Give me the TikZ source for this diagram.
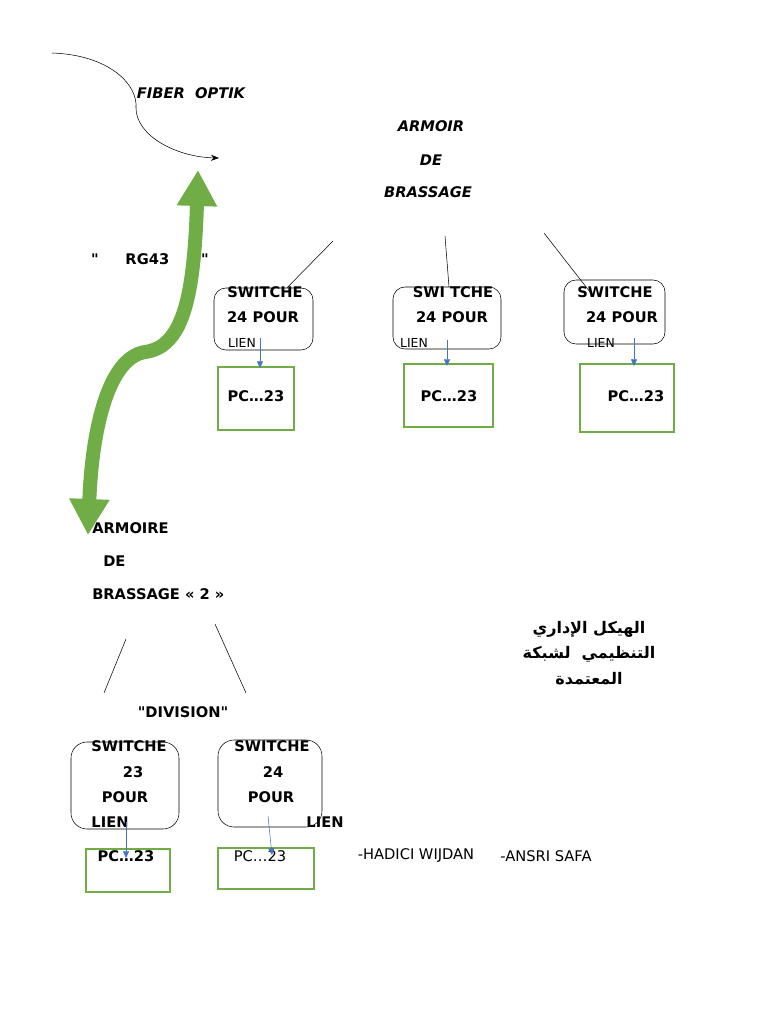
\documentclass[tikz,border=0pt]{standalone}
\usepackage{fontspec}
\setmainfont{DejaVu Sans}[Ligatures=TeXOff]
\newfontfamily\arabicfont[Script=Arabic]{DejaVu Sans}
\TeXXeTstate=1
\usetikzlibrary{arrows.meta}
\definecolor{pcgreen}{RGB}{112,173,71}
\definecolor{lienblue}{RGB}{68,114,196}

\begin{document}
\begin{tikzpicture}
            [x=0.75pt,y=-0.75pt,thin,every node/.style={inner sep=0pt},
             lbl/.style={font=\fontsize{11}{13}\selectfont\bfseries},
             ilbl/.style={font=\fontsize{11}{13}\selectfont\bfseries\itshape},
             small/.style={font=\fontsize{9.3}{11}\selectfont},
             plain/.style={font=\fontsize{11}{13}\selectfont},
             arab/.style={font=\arabicfont\bfseries\fontsize{12}{14}\selectfont},
             switchbox/.style={draw,rounded corners=9pt},
             pcbox/.style={draw=pcgreen,line width=0.8pt},
             lien/.style={draw=lienblue,-{Triangle[length=5pt,width=4.5pt]}},
             rgarrow/.style={draw=pcgreen,line width=10.5pt,
                {Triangle[length=27pt,width=28.5pt]}-{Triangle[length=27pt,width=28.5pt]}}]
            \useasboundingbox (0,0) rectangle (768,1024);

            % fiber optik
            \coordinate (fstart) at (52,53);
            \coordinate (fend) at (219,158);
            \draw[-{Stealth[length=6pt,width=4.5pt]}] (fstart) .. controls (110,55) and (138,85) .. (136,108)
                .. controls (136,135) and (175,157) .. (fend);
            \node[ilbl] (fiber) at (191,93) {FIBER\ \ OPTIK};

            % armoir de brassage
            \node[ilbl] (arm1) at (431,126) {ARMOIR};
            \node[ilbl] (arm2) at (431,160) {DE};
            \node[ilbl] (arm3) at (428,192) {BRASSAGE};

            % RG43
            \node[lbl] (rg) at (150,259) {"\hspace{20pt}RG43\hspace{24pt}"};
            \coordinate (rgtop) at (198,170);
            \coordinate (rgbot) at (88,535);
            \draw[rgarrow] (rgtop) .. controls (194,300) and (182,347) .. (145,352)
                .. controls (108,358) and (92,430) .. (rgbot);

            % switches
            \node[switchbox,minimum width=74.25pt,minimum height=46.5pt] (sw1) at (263.5,319) {};
            \node[switchbox,minimum width=81pt,minimum height=46.5pt] (sw2) at (447,318) {};
            \node[switchbox,minimum width=75.75pt,minimum height=48pt] (sw3) at (614.5,312) {};
            \node[lbl] (s1a) at (265,292) {SWITCHE};
            \node[lbl] (s1b) at (263,317) {24 POUR};
            \node[small] (s1c) at (242,343) {LIEN};
            \node[lbl] (s2a) at (453,292) {SWI TCHE};
            \node[lbl] (s2b) at (452,317) {24 POUR};
            \node[small] (s2c) at (414,343) {LIEN};
            \node[lbl] (s3a) at (615,292) {SWITCHE};
            \node[lbl] (s3b) at (622,317) {24 POUR};
            \node[small] (s3c) at (601,343) {LIEN};

            \node[pcbox,minimum width=57pt,minimum height=47.25pt] (pc1) at (256,398.5) {};
            \node[pcbox,minimum width=66.75pt,minimum height=47.25pt] (pc2) at (448.5,395.5) {};
            \node[pcbox,minimum width=70.5pt,minimum height=51pt] (pc3) at (627,398) {};
            \node[lbl] (p1) at (256,396) {PC…23};
            \node[lbl] (p2) at (449,396) {PC…23};
            \node[lbl] (p3) at (636,396) {PC…23};

            \coordinate (e1) at (333,241);
            \coordinate (e2) at (445,236);
            \coordinate (e3) at (544,233);
            \coordinate (f3) at (590,292);
            \draw (e1) -- (sw1.53);
            \draw (e2) -- (sw2.north -| 449,0);
            \draw (e3) -- (f3);

            \coordinate (l1) at (260,338);
            \coordinate (l2) at (447,340);
            \coordinate (l3) at (634,338);
            \draw[lien] (l1) -- (260,368);
            \draw[lien] (l2) -- (447,366);
            \draw[lien] (l3) -- (634,366);

            % armoire de brassage 2
            \node[lbl,anchor=west] (arm4) at (92,528) {ARMOIRE};
            \node[lbl,anchor=west] (arm5) at (103,561) {DE};
            \node[lbl,anchor=west] (arm6) at (92,594) {BRASSAGE « 2 »};

            \coordinate (g1) at (126,639);
            \coordinate (h1) at (104,693);
            \coordinate (g2) at (215,624);
            \coordinate (h2) at (246,693);
            \draw (g1) -- (h1);
            \draw (g2) -- (h2);

            \node[lbl] (div) at (183,712) {"DIVISION"};

            \node[switchbox,rounded corners=12pt,minimum width=81pt,minimum height=65.25pt] (swa) at (125,785.5) {};
            \node[switchbox,rounded corners=12pt,minimum width=78pt,minimum height=65.25pt] (swb) at (270,783.5) {};
            \node[lbl] (sa1) at (129,746) {SWITCHE};
            \node[lbl] (sa2) at (133,772) {23};
            \node[lbl] (sa3) at (125,797) {POUR};
            \node[lbl] (sa4) at (110,822) {LIEN};
            \node[lbl] (sb1) at (272,746) {SWITCHE};
            \node[lbl] (sb2) at (273,772) {24};
            \node[lbl] (sb3) at (271,797) {POUR};
            \node[lbl] (sb4) at (325,822) {LIEN};

            \node[pcbox,minimum width=63pt,minimum height=32.25pt] (pca) at (128,870.5) {};
            \node[pcbox,minimum width=72pt,minimum height=30.75pt] (pcb) at (266,868.5) {};
            \node[lbl] (pa) at (126,856) {PC…23};
            \node[plain] (pb) at (260,856) {PC…23};

            \coordinate (la) at (126,822);
            \coordinate (lb) at (268,816);
            \draw[lien] (la) -- (126,858);
            \draw[lien] (lb) -- (272,855);

            % noms
            \node[plain] (n1) at (416,856) {-HADICI WIJDAN};
            \node[plain] (n2) at (546,856) {-ANSRI SAFA};

            % titre
            \node[arab] (t1) at (589,629) {\beginR الهيكل الإداري\endR};
            \node[arab] (t2) at (589,654) {\beginR التنظيمي\ \ لشبكة\endR};
            \node[arab] (t3) at (589,679) {\beginR المعتمدة\endR};

        \end{tikzpicture}
\end{document}
